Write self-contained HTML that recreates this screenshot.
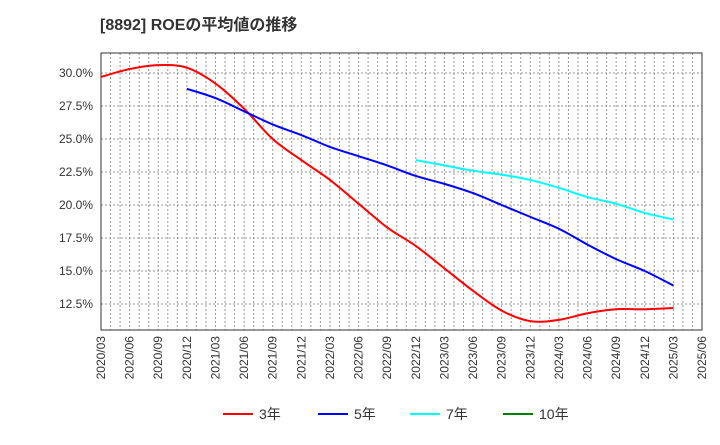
<!DOCTYPE html>
<html><head><meta charset="utf-8"><style>
body{margin:0;background:#fff;font-family:"Liberation Sans","Noto Sans CJK JP",sans-serif}
svg text{font-family:"Liberation Sans","Noto Sans CJK JP",sans-serif}
</style></head><body>
<svg id="c" width="720" height="440" xmlns="http://www.w3.org/2000/svg">
<text x="100" y="30" font-size="16" font-weight="bold" fill="#333">[8892]  ROEの平均値の推移</text>
<g id="grid"></g><g id="axes"></g><g id="series"></g><g id="legend"></g>
</svg>
<script>
const xLabels=["2020/03","2020/06","2020/09","2020/12","2021/03","2021/06","2021/09","2021/12","2022/03","2022/06","2022/09","2022/12","2023/03","2023/06","2023/09","2023/12","2024/03","2024/06","2024/09","2024/12","2025/03","2025/06"];
const yTicks=[12.5,15.0,17.5,20.0,22.5,25.0,27.5,30.0];
const roe3=[29.7,30.3,30.6,30.4,29.2,27.3,25.0,23.4,21.9,20.1,18.3,16.9,15.2,13.5,12.0,11.2,11.3,11.8,12.1,12.1,12.2];
const roe5=[28.8,28.1,27.1,26.1,25.3,24.4,23.7,23.0,22.2,21.6,20.9,20.0,19.1,18.2,17.0,15.9,15.0,13.9];
const roe7=[23.4,23.0,22.6,22.3,21.9,21.3,20.6,20.1,19.4,18.9];
const roe10=[];
const L=101,R=702,T=53,B=330,Q=(R-L)/21;
const X=i=>L+i*Q, Y=v=>73+(30-v)*13.2;
const NS="http://www.w3.org/2000/svg";
function mk(t,a,p){const e=document.createElementNS(NS,t);for(const k in a)e.setAttribute(k,a[k]);p.appendChild(e);return e;}
const grid=document.getElementById('grid'),axes=document.getElementById('axes'),ser=document.getElementById('series'),leg=document.getElementById('legend');
for(let m=0;m<=63;m++){const x=L+m*Q/3;const g=mk('line',{x1:x,x2:x,y1:T,y2:B,stroke:'#999','stroke-dasharray':'2,2','stroke-width':1},grid);

}
yTicks.forEach(v=>{const g=mk('line',{x1:L,x2:R,y1:Y(v),y2:Y(v),stroke:'#999','stroke-dasharray':'2,2'},grid);


const t=mk('text',{x:L-8,y:Y(v)+4,'text-anchor':'end','font-size':12,fill:'#333'},axes);t.textContent=v.toFixed(1)+'%';

});
xLabels.forEach((s,i)=>{const t=mk('text',{x:0,y:0,'text-anchor':'end','font-size':12,fill:'#333',transform:`translate(${X(i)+4},${B+6}) rotate(-90)`},axes);t.textContent=s;

});
const fr=mk('rect',{x:L,y:T,width:R-L,height:B-T,fill:'none',stroke:'#333'},axes);


function path(vals,off){const p=vals.map((v,i)=>[X(i+off),Y(v)]);if(p.length<2)return '';let d=`M${p[0][0]},${p[0][1]}`;
for(let i=0;i<p.length-1;i++){const p0=p[i-1]||p[i],p1=p[i],p2=p[i+1],p3=p[i+2]||p2;
d+=` C${p1[0]+(p2[0]-p0[0])/6},${p1[1]+(p2[1]-p0[1])/6} ${p2[0]-(p3[0]-p1[0])/6},${p2[1]-(p3[1]-p1[1])/6} ${p2[0]},${p2[1]}`;}return d;}
[[roe3,0,'#ff0000','series-3y'],[roe5,3,'#0000ff','series-5y'],[roe7,11,'#00ffff','series-7y'],[roe10,20,'#008000','series-10y']].forEach(s=>{
if(s[0].length<2)return;const e=mk('path',{d:path(s[0],s[1]),fill:'none',stroke:s[2],'stroke-width':2},ser);

});
[['3年','#ff0000',223],['5年','#0000ff',318],['7年','#00ffff',410],['10年','#008000',503]].forEach(l=>{
const g=mk('g',{},leg);


mk('line',{x1:l[2],x2:l[2]+30,y1:414,y2:414,stroke:l[1],'stroke-width':2},g);
const t=mk('text',{x:l[2]+36,y:419,'font-size':14,fill:'#333'},g);t.textContent=l[0];});
</script>
</body></html>
